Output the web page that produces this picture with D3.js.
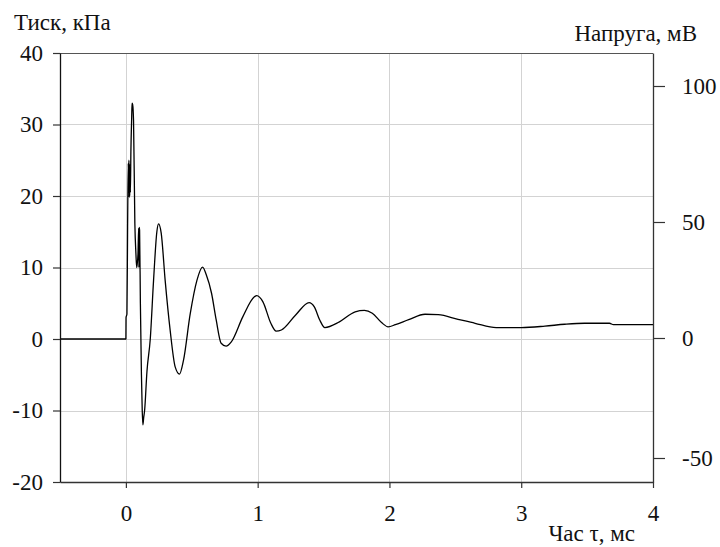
<!DOCTYPE html>
<html>
<head>
<meta charset="utf-8">
<script src="https://cdn.jsdelivr.net/npm/d3@7"></script>
<style>
  html, body { margin: 0; padding: 0; background: #fff; }
  svg { display: block; }
  text { font-family: "Liberation Serif", "Times New Roman", serif; fill: #111; }
</style>
</head>
<body>
<svg id="chart" width="720" height="547"></svg>
<script>
// ---- data ----
const timeMs = [-0.5, 0, 0.001, 0.008, 0.013, 0.018, 0.021, 0.023, 0.025, 0.027, 0.029, 0.031, 0.034, 0.038,
  0.044, 0.047, 0.051, 0.055, 0.058, 0.068, 0.076, 0.082, 0.086, 0.092, 0.097, 0.099, 0.101, 0.104,
  0.110, 0.118, 0.124, 0.129, 0.135, 0.142, 0.16, 0.185, 0.21, 0.235, 0.248, 0.268, 0.298, 0.336,
  0.374, 0.407, 0.437, 0.488, 0.539, 0.582, 0.61, 0.65, 0.685, 0.723, 0.76, 0.80, 0.887, 0.975,
  0.993, 1.04, 1.1, 1.14, 1.18, 1.29, 1.39, 1.43, 1.47, 1.51, 1.62, 1.74, 1.81, 1.87, 1.94, 1.99,
  2.045, 2.146, 2.27, 2.37, 2.52, 2.65, 2.81, 3.0, 3.18, 3.33, 3.48, 3.67, 3.7, 4.0];
const pressureKPa = [0, 0, 3, 3.5, 15.7, 24.6, 20.5, 25, 19.8, 24.5, 20, 24, 20.5, 26.2,
  31, 33, 32.8, 32, 30.6, 16.2, 12, 10, 10.5, 12, 15.5, 10, 15.6, 15.2,
  5, -5, -10, -12, -11, -10, -4.5, 0, 8.2, 15, 16.1, 14.8, 8.2, 1.2,
  -3.9, -4.9, -3, 3.5, 8.2, 10.05, 9, 6.4, 2.7, -0.6, -1, -0.4, 3.1, 5.9,
  6.07, 5.2, 2.2, 1.1, 1.26, 3.4, 5.1, 4.5, 2.7, 1.6, 2.4, 3.8, 4.0, 3.6, 2.3, 1.7,
  2.0, 2.7, 3.46, 3.4, 2.76, 2.2, 1.6, 1.6, 1.8, 2.06, 2.2, 2.2, 2.0, 2.0];
const xTicks = [0, 1, 2, 3, 4];
const leftTicks = [-20, -10, 0, 10, 20, 30, 40];
const rightTicks = [-50, 0, 50, 100];
const leftTitle = "Тиск, кПа";
const rightTitle = "Напруга, мВ";
const xTitle = "Час τ, мс";

// ---- layout ----
const L = 60, R = 653, T = 53, B = 482;
const svg = d3.select("#chart");

const x = d3.scaleLinear().domain([-0.5, 4]).range([L, R]);
const y = d3.scaleLinear().domain([-20, 40]).range([B, T]);
// right axis as drawn in the original (slightly uneven spacing)
const y2 = d3.scaleLinear().domain([-60, -50, 0, 50, 100, 112]).range([B, 458, 338, 222, 86, T]);

// grid
const grid = svg.append("g").attr("stroke", "#d3d3d3").attr("stroke-width", 1);
grid.selectAll("line.v").data(xTicks.filter(d => d < 4)).join("line")
  .attr("x1", d => Math.round(x(d)) + 0.5).attr("x2", d => Math.round(x(d)) + 0.5)
  .attr("y1", T).attr("y2", B);
grid.selectAll("line.h").data(leftTicks.filter(d => d > -20 && d < 40)).join("line")
  .attr("y1", d => Math.round(y(d)) + 0.5).attr("y2", d => Math.round(y(d)) + 0.5)
  .attr("x1", L).attr("x2", R);

// frame (top)
svg.append("line").attr("x1", L).attr("x2", R).attr("y1", T + 0.5).attr("y2", T + 0.5)
  .attr("stroke", "#555").attr("stroke-width", 1.2);

// data line
const pts = timeMs.map((t, i) => [t, pressureKPa[i]]);
svg.append("path").datum(pts)
  .attr("fill", "none").attr("stroke", "#000").attr("stroke-width", 1.3)
  .attr("stroke-linejoin", "round")
  .attr("d", d3.line().x(d => x(d[0])).y(d => y(d[1])).curve(d3.curveMonotoneX));

const fs = "23px";
const fmt = d => String(d);
// axes
const gx = svg.append("g").attr("transform", `translate(0,${B})`)
  .call(d3.axisBottom(x).tickValues(xTicks).tickFormat(fmt).tickSize(6).tickPadding(17).tickSizeOuter(0));
const gl = svg.append("g").attr("transform", `translate(${L},0)`)
  .call(d3.axisLeft(y).tickValues(leftTicks).tickFormat(fmt).tickSize(7).tickPadding(10).tickSizeOuter(0));
const gr = svg.append("g").attr("transform", `translate(${R},0)`)
  .call(d3.axisRight(y2).tickValues(rightTicks).tickFormat(fmt).tickSize(12).tickPadding(17).tickSizeOuter(0));

[gx, gl, gr].forEach(g => {
  g.selectAll("path.domain").attr("stroke", "#333").attr("stroke-width", 1.3);
  g.selectAll(".tick line").attr("stroke", "#333").attr("stroke-width", 1.2);
  g.selectAll("text").style("font-size", fs).style("font-family", '"Liberation Serif", serif').attr("fill", "#111");
});
gl.select("path.domain").attr("stroke", "#111");

// titles
svg.append("text").attr("x", 14).attr("y", 30).style("font-size", fs).text(leftTitle);
svg.append("text").attr("x", 697).attr("y", 41).attr("text-anchor", "end").style("font-size", fs).text(rightTitle);
svg.append("text").attr("x", 635).attr("y", 541).attr("text-anchor", "end").style("font-size", fs).text(xTitle);
</script>
</body>
</html>
